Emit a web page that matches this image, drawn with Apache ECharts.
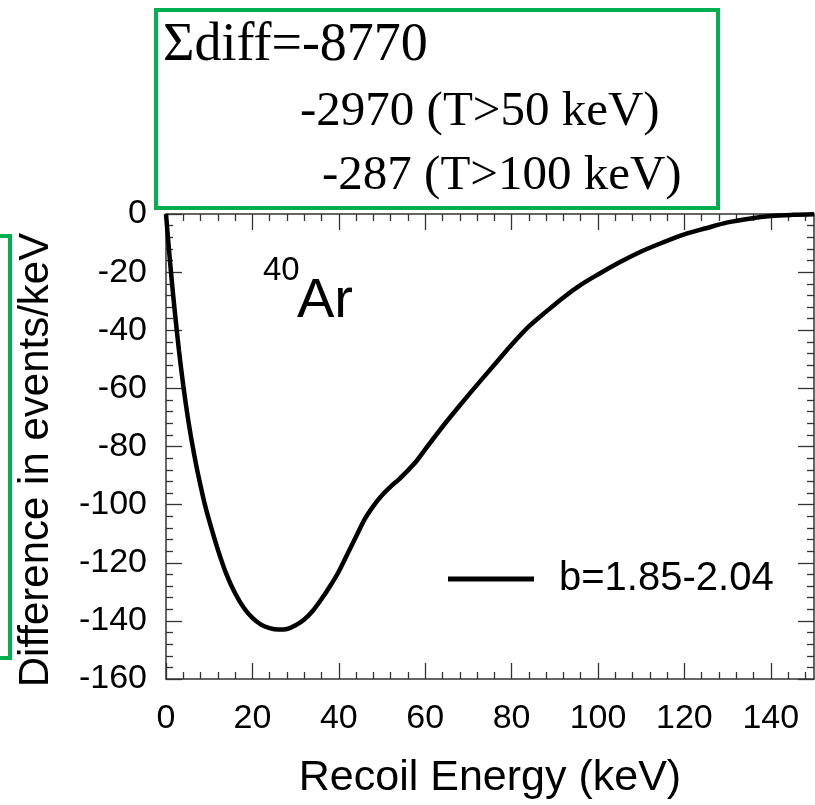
<!DOCTYPE html>
<html><head><meta charset="utf-8">
<script src="https://cdn.jsdelivr.net/npm/echarts@6/dist/echarts.min.js"></script>
<style>html,body{margin:0;padding:0;background:#fff}#c{width:815px;height:805px}</style>
</head><body><div id="c"></div>
<script>
// Data
const energy = [0,0.5,1,1.5,2,3,4,5,6,7,8,9,10,12,14,16,18,20,22,24,26,28,30,32,34,36,38,40,42,44,46,48,50,52,54,56,58,60,64,68,72,76,80,84,88,92,96,100,105,110,115,120,125,130,135,140,145,150];
const diff = [0,-9,-17.5,-25.5,-33,-47,-59,-69.5,-78.5,-86.5,-93.5,-100,-105.5,-115.5,-124,-130.5,-135.5,-139,-141.3,-142.5,-143,-142.8,-141.5,-139.5,-136.5,-132.5,-128,-123,-117,-111,-105,-100.5,-96.8,-93.8,-91.2,-88.2,-85,-81,-73.2,-65.9,-58.8,-51.9,-45,-38.7,-33.6,-28.7,-24.4,-20.8,-16.6,-12.9,-9.8,-7,-4.9,-2.9,-1.6,-0.7,-0.3,-0.1];
const seriesName = 'b=1.85-2.04';
const xTickLabels = [0,20,40,60,80,100,120,140];
const xMinorTicks = [4,8,12,16,24,28,32,36,44,48,52,56,64,68,72,76,84,88,92,96,104,108,112,116,124,128,132,136,144,148];
const yTickLabels = [-160,-140,-120,-100,-80,-60,-40,-20,0];
const xTitle = 'Recoil Energy (keV)';
const yTitle = 'Difference in events/keV';
const boxLines = ['\u03A3diff=-8770', '-2970 (T>50 keV)', '-287 (T>100 keV)'];

const chart = echarts.init(document.getElementById('c'), null, {renderer: 'canvas'});
const axCol = '#333';
const font = 'Arial, "Liberation Sans", sans-serif';
const serif = '"Liberation Serif", "Times New Roman", serif';

function xAx(pos, showLine, tickVals, tickLen, labels, name) {
  return {
    type: 'value', position: pos, min: 0, max: 150, gridIndex: 0,
    axisLine: {show: showLine, onZero: false, lineStyle: {color: axCol, width: 1.5}},
    axisTick: {show: true, inside: true, length: tickLen, customValues: tickVals, lineStyle: {color: axCol, width: 1.3}},
    axisLabel: labels ? {show: true, customValues: xTickLabels, fontSize: 34, fontFamily: font, color: '#000', margin: 23} : {show: false},
    splitLine: {show: false},
    name: name || '', nameLocation: 'middle', nameGap: 78,
    nameTextStyle: {fontSize: 43, fontFamily: font, color: '#000'}
  };
}
function yAx(pos, labels) {
  return {
    type: 'value', position: pos, min: -160, max: 0, interval: 20, gridIndex: 0,
    axisLine: {show: true, onZero: false, lineStyle: {color: axCol, width: 1.5}},
    axisTick: {show: true, inside: true, length: 16, lineStyle: {color: axCol, width: 1.3}},
    minorTick: {show: true, splitNumber: 5, length: 7, lineStyle: {color: axCol, width: 1.3}},
    axisLabel: labels ? {show: true, fontSize: 34, fontFamily: font, color: '#000', margin: 19} : {show: false},
    splitLine: {show: false}, minorSplitLine: {show: false}
  };
}

const data = energy.map((e, i) => [e, diff[i]]);

chart.setOption({
  animation: false,
  backgroundColor: '#fff',
  grid: {left: 166, right: 1, top: 214, bottom: 124, containLabel: false},
  xAxis: [
    xAx('bottom', true, xTickLabels, 16, true, xTitle),
    xAx('bottom', false, xMinorTicks, 7, false),
    xAx('top', true, xTickLabels, 16, false),
    xAx('top', false, xMinorTicks, 7, false)
  ],
  yAxis: [
    yAx('left', true),
    yAx('right', false)
  ],
  legend: {
    show: true, left: 443, top: 554, orient: 'vertical',
    icon: 'rect', itemWidth: 86, itemHeight: 5,
    textStyle: {fontSize: 40, fontFamily: font, color: '#000', padding: [0, 0, 0, 20]},
    data: [seriesName]
  },
  series: [{
    name: seriesName, type: 'line', xAxisIndex: 0, yAxisIndex: 0,
    data: data, showSymbol: false, symbol: 'none', smooth: 0.3,
    lineStyle: {color: '#000', width: 4.5}, itemStyle: {color: '#000'}
  }],
  graphic: [
    {type: 'rect', shape: {x: 156, y: 10, width: 562, height: 198}, style: {fill: 'none', stroke: '#00b050', lineWidth: 4}},
    {type: 'rect', shape: {x: -20, y: 236, width: 30, height: 422}, style: {fill: 'none', stroke: '#00b050', lineWidth: 4}},
    {type: 'text', left: 163, top: 19, style: {text: boxLines[0], font: '54px ' + serif, fill: '#000'}},
    {type: 'text', left: 300, top: 88, style: {text: boxLines[1], font: '49px ' + serif, fill: '#000'}},
    {type: 'text', left: 322, top: 152, style: {text: boxLines[2], font: '49px ' + serif, fill: '#000'}},
    {type: 'text', left: 263, top: 254, style: {text: '40', font: '33px ' + font, fill: '#000'}},
    {type: 'text', left: 297, top: 274, style: {text: 'Ar', font: '56px ' + font, fill: '#000'}},
    {type: 'text', x: 36, y: 460, rotation: Math.PI / 2,
     style: {text: yTitle, font: '42px ' + font, fill: '#000', align: 'center', verticalAlign: 'middle'}}
  ]
});
</script></body></html>
